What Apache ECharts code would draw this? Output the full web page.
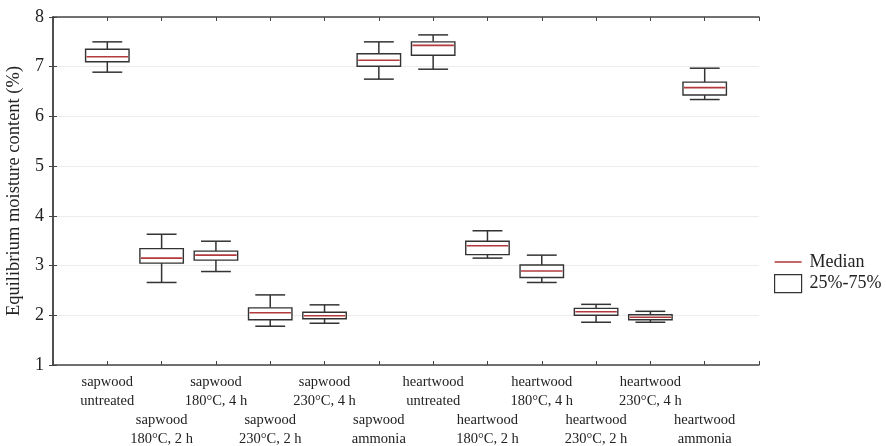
<!DOCTYPE html>
<html>
<head>
<meta charset="utf-8">
<script src="https://cdn.jsdelivr.net/npm/echarts@6/dist/echarts.min.js"></script>
<style>
  html, body { margin: 0; padding: 0; background: #fff; }
  #chart { width: 886px; height: 446px; }
</style>
</head>
<body>
<div id="chart"></div>
<script>
// Wood groups, in plotting order (x = 1..12)
const categories = [
  'sapwood\nuntreated',
  'sapwood\n180°C, 2 h',
  'sapwood\n180°C, 4 h',
  'sapwood\n230°C, 2 h',
  'sapwood\n230°C, 4 h',
  'sapwood\nammonia',
  'heartwood\nuntreated',
  'heartwood\n180°C, 2 h',
  'heartwood\n180°C, 4 h',
  'heartwood\n230°C, 2 h',
  'heartwood\n230°C, 4 h',
  'heartwood\nammonia'
];

// Box statistics per group (equilibrium moisture content, %)
const whiskerLow  = [6.89, 2.66, 2.88, 1.78, 1.84, 6.75, 6.95, 3.15, 2.66, 1.86, 1.86, 6.34];
const quartile25  = [7.10, 3.05, 3.11, 1.91, 1.93, 7.01, 7.23, 3.22, 2.76, 2.00, 1.91, 6.43];
const medians     = [7.20, 3.15, 3.21, 2.05, 1.99, 7.13, 7.43, 3.40, 2.89, 2.07, 1.96, 6.58];
const quartile75  = [7.35, 3.34, 3.29, 2.15, 2.06, 7.26, 7.50, 3.49, 3.01, 2.14, 2.01, 6.69];
const whiskerHigh = [7.50, 3.63, 3.49, 2.41, 2.21, 7.50, 7.64, 3.70, 3.21, 2.22, 2.08, 6.97];

// Y axis tick labels
const yTicks = [1, 2, 3, 4, 5, 6, 7, 8];

const FONT = '"Liberation Serif", "DejaVu Serif", serif';
const INK = '#333333';
const MEDIAN_RED = '#b23a3c';

const boxData = categories.map((c, i) => [i + 1, whiskerLow[i], quartile25[i], medians[i], quartile75[i], whiskerHigh[i]]);
const medianData = categories.map((c, i) => [i + 1, medians[i]]);

function renderBox(params, api) {
  const x = api.value(0);
  const pLow = api.coord([x, api.value(1)]);
  const pQ1 = api.coord([x, api.value(2)]);
  const pQ3 = api.coord([x, api.value(4)]);
  const pHigh = api.coord([x, api.value(5)]);
  const unit = api.size([1, 0])[0];
  const bw = unit * 0.8;
  const cw = unit * 0.55;
  const cx = pQ1[0];
  const lineStyle = { stroke: INK, lineWidth: 1.5, fill: null };
  return {
    type: 'group',
    children: [
      { type: 'line', shape: { x1: cx, y1: pHigh[1], x2: cx, y2: pQ3[1] }, style: lineStyle },
      { type: 'line', shape: { x1: cx, y1: pLow[1], x2: cx, y2: pQ1[1] }, style: lineStyle },
      { type: 'line', shape: { x1: cx - cw / 2, y1: pHigh[1], x2: cx + cw / 2, y2: pHigh[1] }, style: lineStyle },
      { type: 'line', shape: { x1: cx - cw / 2, y1: pLow[1], x2: cx + cw / 2, y2: pLow[1] }, style: lineStyle },
      { type: 'rect', shape: { x: cx - bw / 2, y: pQ3[1], width: bw, height: pQ1[1] - pQ3[1] },
        style: { stroke: INK, lineWidth: 1.4, fill: '#ffffff' } }
    ]
  };
}

function renderMedian(params, api) {
  const x = api.value(0);
  const p = api.coord([x, api.value(1)]);
  const unit = api.size([1, 0])[0];
  const bw = unit * 0.8;
  return {
    type: 'line',
    shape: { x1: p[0] - bw / 2 + 1, y1: p[1], x2: p[0] + bw / 2 - 1, y2: p[1] },
    style: { stroke: MEDIAN_RED, lineWidth: 1.6 }
  };
}

const chart = echarts.init(document.getElementById('chart'), null, { renderer: 'canvas' });

chart.setOption({
  animation: false,
  backgroundColor: '#ffffff',
  textStyle: { fontFamily: FONT },
  grid: { left: 53, right: 127, top: 17, bottom: 81, containLabel: false, outerBoundsMode: 'none' },
  legend: {
    orient: 'vertical',
    left: 774,
    top: 253,
    padding: 0,
    itemWidth: 27,
    itemHeight: 18,
    itemGap: 3,
    textStyle: { fontFamily: FONT, fontSize: 18, color: '#222', padding: [0, 0, 0, 3] },
    data: [
      { name: 'Median', icon: 'path://M0,0 L28,0 L28,1.6 L0,1.6 Z', itemStyle: { color: MEDIAN_RED, borderWidth: 0 } },
      { name: '25%-75%', icon: 'rect', itemStyle: { color: '#ffffff', borderColor: INK, borderWidth: 1.2 } }
    ]
  },
  xAxis: [
    {
      type: 'value', min: 0, max: 13, interval: 1, position: 'bottom',
      axisLine: { show: true, lineStyle: { color: '#444', width: 1.5 } },
      axisTick: { show: true, inside: true, length: 4, lineStyle: { color: '#444' } },
      splitLine: { show: false },
      axisLabel: {
        margin: 8,
        fontFamily: FONT,
        fontSize: 14.5,
        lineHeight: 19,
        color: '#222',
        showMinLabel: true,
        showMaxLabel: true,
        formatter: function (v) {
          if (v < 1 || v > categories.length) return '';
          const t = categories[v - 1];
          return (v % 2 === 0) ? '\n\n' + t : t;
        }
      }
    },
    {
      type: 'value', min: 0, max: 13, interval: 1, position: 'top',
      axisLine: { show: true, lineStyle: { color: '#444', width: 1.5 } },
      axisTick: { show: true, inside: true, length: 4, lineStyle: { color: '#444' } },
      axisLabel: { show: false },
      splitLine: { show: false }
    }
  ],
  yAxis: [
    {
      type: 'value', min: yTicks[0], max: yTicks[yTicks.length - 1], interval: 1, position: 'left',
      name: 'Equilibrium moisture content (%)',
      nameLocation: 'middle',
      nameGap: 26,
      nameRotate: 90,
      nameTextStyle: { fontFamily: FONT, fontSize: 18.5, color: '#222' },
      axisLine: { show: true, lineStyle: { color: '#444', width: 1.5 } },
      axisTick: { show: true, inside: true, length: 4, lineStyle: { color: '#444' } },
      axisLabel: { fontFamily: FONT, fontSize: 18, color: '#222', margin: 9 },
      splitLine: { show: true, lineStyle: { color: '#ececec', width: 1 } }
    },
    {
      type: 'value', min: yTicks[0], max: yTicks[yTicks.length - 1], interval: 1, position: 'right',
      axisLine: { show: true, lineStyle: { color: '#444', width: 1.5 } },
      axisTick: { show: true, inside: true, length: 4, lineStyle: { color: '#444' } },
      axisLabel: { show: false },
      splitLine: { show: false }
    }
  ],
  series: [
    {
      name: '25%-75%',
      type: 'custom',
      xAxisIndex: 0,
      yAxisIndex: 0,
      renderItem: renderBox,
      encode: { x: 0, y: [1, 2, 3, 4, 5] },
      itemStyle: { color: '#ffffff', borderColor: INK },
      data: boxData,
      z: 3
    },
    {
      name: 'Median',
      type: 'custom',
      xAxisIndex: 0,
      yAxisIndex: 0,
      renderItem: renderMedian,
      encode: { x: 0, y: 1 },
      itemStyle: { color: MEDIAN_RED },
      data: medianData,
      z: 4
    }
  ]
});
</script>
</body>
</html>
